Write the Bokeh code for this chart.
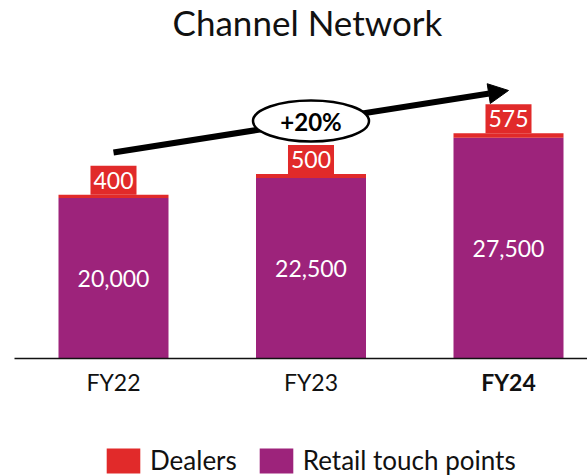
from bokeh.plotting import figure
from bokeh.models import (ColumnDataSource, Range1d, Legend, LegendItem, Arrow,
                          NormalHead, Label)
from bokeh.embed import file_html
from bokeh.resources import INLINE
from bokeh.core.properties import value

# ---- data ----
categories = ["FY22", "FY23", "FY24"]
retail_touch_points = [20000, 22500, 27500]
dealers = [400, 500, 575]
highlight = "FY24"
growth_label = "+20%"
title_text = "Channel Network"

RED = "#E12A2A"
PURPLE = "#9D237B"
FONT = "Lato"

xs = list(range(len(categories)))
tops = [r + d for r, d in zip(retail_touch_points, dealers)]
src = ColumnDataSource(dict(
    x=xs,
    cat=categories,
    retail=retail_touch_points,
    dealers=dealers,
    top=tops,
    retail_mid=[r / 2 for r in retail_touch_points],
    retail_lbl=[f"{v:,}" for v in retail_touch_points],
    dealer_lbl=[f"{v:,}" for v in dealers],
    cat_style=["bold" if c == highlight else "normal" for c in categories],
))

W, H = 587, 475
px_x = 197.5          # pixels per category
px_y = 124.6          # data units per pixel
base = 358            # pixel row of the baseline
x0 = -113 / px_x
y_top = base * px_y
y_bot = -(H - base) * px_y

p = figure(width=W, height=H, output_backend="svg", toolbar_location=None,
           x_range=Range1d(x0, x0 + W / px_x), y_range=Range1d(y_bot, y_top),
           min_border=0, outline_line_color=None)
p.axis.visible = False
p.grid.visible = False

bw = 110 / px_x
r_retail = p.vbar(x="x", bottom=0, top="retail", width=bw, source=src,
                  fill_color=PURPLE, line_color=None)
r_dealers = p.vbar(x="x", bottom="retail", top="top", width=bw, source=src,
                   fill_color=RED, line_color=None)

# baseline (x axis line)
p.segment(x0=x0 + 14 / px_x, y0=0, x1=x0 + W / px_x, y1=0,
          line_color="#111111", line_width=1.5)

# category labels
p.text(x="x", y=-23 * px_y, text="cat", source=src, text_align="center",
       text_baseline="middle", text_font=value(FONT), text_font_size="23px",
       text_font_style="cat_style", text_color="#111111")

# retail labels inside bars
p.text(x="x", y="retail_mid", text="retail_lbl", source=src, text_align="center",
       text_baseline="middle", text_font=value(FONT), text_font_size="23px",
       text_color="white")

# dealer labels on red boxes
p.text(x="x", y="top", text="dealer_lbl", source=src, text_align="center",
       text_baseline="bottom", text_font=value(FONT), text_font_size="23px",
       text_color="white", background_fill_color=RED, padding=(3, 6))

# growth arrow
arrow = Arrow(x_start=0, y_start=25668, x_end=2, y_end=33393,
              line_width=6, line_color="black",
              end=NormalHead(size=20, fill_color="black", line_color="black"),
              level="underlay")
p.add_layout(arrow)
p.ellipse(x=[1], y=[29592], width=116, height=41, width_units="screen",
          height_units="screen", fill_color="white", line_color="black",
          line_width=2.5)
p.add_layout(Label(x=1, y=29592, text=growth_label, text_align="center",
                   text_baseline="middle", text_font=FONT, text_font_size="24px",
                   text_font_style="bold", text_color="black"))

# title
p.add_layout(Label(x=0.982, y=337 * px_y, text=title_text, text_align="center",
                   text_baseline="middle", text_font=FONT, text_font_size="35px",
                   text_color="#111111"))

legend = Legend(items=[LegendItem(label="Dealers", renderers=[r_dealers]),
                       LegendItem(label="Retail touch points", renderers=[r_retail])],
                orientation="horizontal", location=(102, -1), glyph_width=42,
                glyph_height=31, label_height=31, label_text_font=FONT,
                label_text_font_size="26px", label_text_color="#111111",
                label_standoff=6, spacing=18, padding=0, margin=0,
                border_line_color=None, background_fill_alpha=0)
p.add_layout(legend)

open("out.html", "w").write(file_html(p, INLINE))
